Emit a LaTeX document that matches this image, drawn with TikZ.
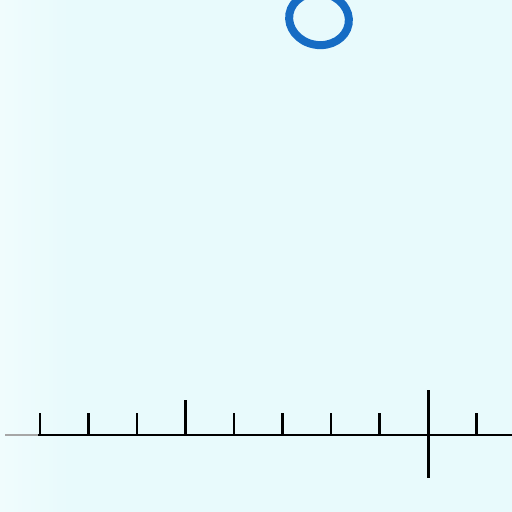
\documentclass[tikz,border=0pt]{standalone}
\definecolor{bgc}{RGB}{232,250,252}
\definecolor{bgl}{RGB}{240,252,253}
\definecolor{ringc}{RGB}{22,108,196}
\tikzset{
  axisline/.style={line width=2pt,black},
  tickmark/.style={line width=2.4pt,black},
  ring/.style={line width=8pt,ringc}
}
\begin{document}
\begin{tikzpicture}[x=1pt,y=-1pt]
\useasboundingbox (0,0) rectangle (512,512);
\fill[bgc] (0,0) rectangle (512,512);
\shade[left color=bgl,right color=bgc] (0,0) rectangle (70,512);
% ring
\begin{scope}
\clip (0,0) rectangle (512,512);
\draw[ring,rotate around={-10:(319,19)}] (319,19) ellipse [x radius=30,y radius=26];
\end{scope}
% axis
\draw[line width=1.2pt,gray!70] (5,435) -- (38,435);
\draw[axisline] (38,435) -- (512,435);
\foreach \x in {40,88.5,137,234,282.5,331,379.5,476.5}
  \draw[tickmark] (\x,413) -- (\x,435);
\draw[tickmark] (185.5,400) -- (185.5,435);
\draw[line width=3pt,black] (428.5,390) -- (428.5,478);
\end{tikzpicture}
\end{document}
